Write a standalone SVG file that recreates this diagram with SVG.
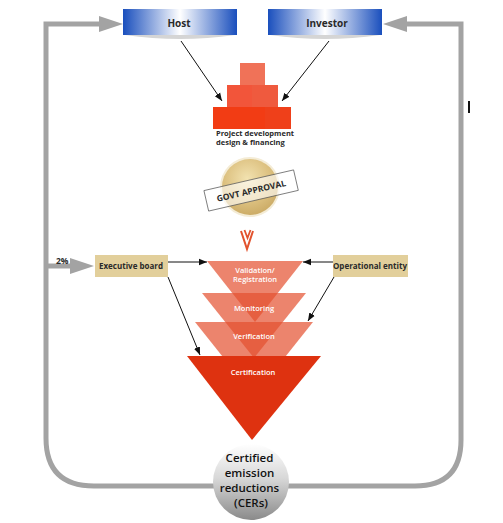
<svg xmlns="http://www.w3.org/2000/svg" width="503" height="523" viewBox="0 0 503 523">
<style>
.lbl{font-family:"Open Sans","Liberation Sans",sans-serif;font-weight:bold;fill:#2a2a2a}
.wl{font-family:"Open Sans","Liberation Sans",sans-serif;font-weight:600;fill:#ffffff;font-size:7.5px;text-anchor:middle}
.loop{fill:none;stroke:#a3a3a3;stroke-width:5}
.loophead{fill:#a3a3a3}
.thin{stroke:#111;stroke-width:1;fill:none;marker-end:url(#ah)}
.tri{fill:#e4502f;opacity:0.7}
.tan{fill:#e2cf9b}
</style>
<defs>
<marker id="ah" viewBox="0 0 10 10" refX="10" refY="5" markerWidth="8" markerHeight="8" markerUnits="userSpaceOnUse" orient="auto"><path d="M0,1 L10,5 L0,9 Z" fill="#111"/></marker>
<linearGradient id="blue" x1="0" x2="1" y1="0" y2="0">
<stop offset="0" stop-color="#1a4fbd"/><stop offset="0.5" stop-color="#ffffff"/><stop offset="1" stop-color="#1a4fbd"/>
</linearGradient>
<radialGradient id="gold" cx="0.45" cy="0.35" r="0.7">
<stop offset="0" stop-color="#f2e2b0"/><stop offset="0.6" stop-color="#dcc07f"/><stop offset="1" stop-color="#c9a862"/>
</radialGradient>
<linearGradient id="grey" x1="0" x2="0" y1="0" y2="1">
<stop offset="0" stop-color="#ffffff"/><stop offset="0.45" stop-color="#d8d8d8"/><stop offset="1" stop-color="#8a8a8a"/>
</linearGradient>
</defs>

<g id="connectors">
<path class="loop" d="M100,24 H46 V438 Q46,486 94,486 H214"/>
<polygon class="loophead" points="99,16 123,24 99,32"/>
<path class="loop" d="M288,486 H415 Q461,486 461,440 V24 H407"/>
<polygon class="loophead" points="407,16 383,24 407,32"/>
<path class="loop" d="M46,266 H72"/>
<polygon class="loophead" points="70,258 94,266 70,274"/>
<line class="thin" x1="181" y1="41" x2="222" y2="101"/>
<line class="thin" x1="329" y1="41" x2="282" y2="101"/>
<line class="thin" x1="168" y1="262" x2="207" y2="262"/>
<line class="thin" x1="333" y1="262" x2="303" y2="262"/>
<line class="thin" x1="168" y1="277" x2="200" y2="355"/>
<line class="thin" x1="334" y1="277" x2="308" y2="321"/>
</g>

<g id="host">
<path d="M125,35 Q180,43 235,35 Z" fill="#d5d5d5"/>
<rect x="123" y="9" width="114" height="26" fill="url(#blue)"/>
<text class="lbl" x="179" y="27" font-size="10" text-anchor="middle">Host</text>
</g>

<g id="investor">
<path d="M270,35 Q325,43 380,35 Z" fill="#d5d5d5"/>
<rect x="268" y="9" width="114" height="26" fill="url(#blue)"/>
<text class="lbl" x="327" y="27" font-size="10" text-anchor="middle">Investor</text>
</g>

<g id="project">
<rect x="240" y="63" width="25" height="22" fill="#f07258"/>
<rect x="227" y="85" width="25" height="22" fill="#f2553a"/>
<rect x="252" y="85" width="26" height="22" fill="#ef5a3e"/>
<rect x="213" y="107" width="52" height="22" fill="#f23c14"/>
<rect x="265" y="107" width="26" height="22" fill="#ef401a"/>
<text class="lbl" x="216" y="136" font-size="7.5">Project development</text>
<text class="lbl" x="216" y="145" font-size="7.5">design &amp; financing</text>
</g>

<g id="govt">
<circle cx="250" cy="187" r="30" fill="#f4ecd6"/>
<circle cx="250" cy="187" r="28" fill="url(#gold)"/>
<g transform="rotate(-13 251 190)">
<rect x="205" y="180" width="92" height="21" fill="#ffffff" fill-opacity="0.6" stroke="#555" stroke-width="0.7"/>
<text class="lbl" x="251" y="194" font-size="8.5" text-anchor="middle">GOVT APPROVAL</text>
</g>
</g>

<g id="chevron">
<polyline points="241,231 247,249 253,231" fill="none" stroke="#e2532e" stroke-width="2"/>
<polyline points="244.5,230 247.5,238 250.5,230" fill="none" stroke="#e2532e" stroke-width="1.8"/>
</g>

<g id="executive">
<rect class="tan" x="95" y="255" width="73" height="22"/>
<text class="lbl" x="131" y="269" font-size="8" text-anchor="middle">Executive board</text>
<text class="lbl" x="56" y="264" font-size="8.5">2%</text>
</g>

<g id="operational">
<rect class="tan" x="333" y="255" width="75" height="22"/>
<text class="lbl" x="370" y="269" font-size="8" text-anchor="middle">Operational entity</text>
</g>

<g id="validation">
<polygon class="tri" points="207,261 303,261 255,322"/>
<text class="wl" x="255" y="273">Validation/</text>
<text class="wl" x="255" y="282">Registration</text>
</g>
<g id="monitoring">
<polygon class="tri" points="202,293 306,293 254,358"/>
<text class="wl" x="254" y="311">Monitoring</text>
</g>
<g id="verification">
<polygon class="tri" points="195,322 313,322 254,396"/>
<text class="wl" x="254" y="339">Verification</text>
</g>
<g id="certification">
<polygon points="187,356 321,356 252,440" fill="#de3210"/>
<text class="wl" x="253" y="375">Certification</text>
</g>

<g id="cers">
<circle cx="251" cy="482" r="38" fill="url(#grey)"/>
<text font-family="'Open Sans','Liberation Sans',sans-serif" font-weight="600" font-size="11.5" text-anchor="middle" fill="#111">
<tspan x="251" y="462">Certified</tspan>
<tspan x="251" y="477">emission</tspan>
<tspan x="251" y="492">reductions</tspan>
<tspan x="251" y="507">(CERs)</tspan>
</text>
</g>

<rect x="468" y="101" width="2" height="12" fill="#111"/>
</svg>
